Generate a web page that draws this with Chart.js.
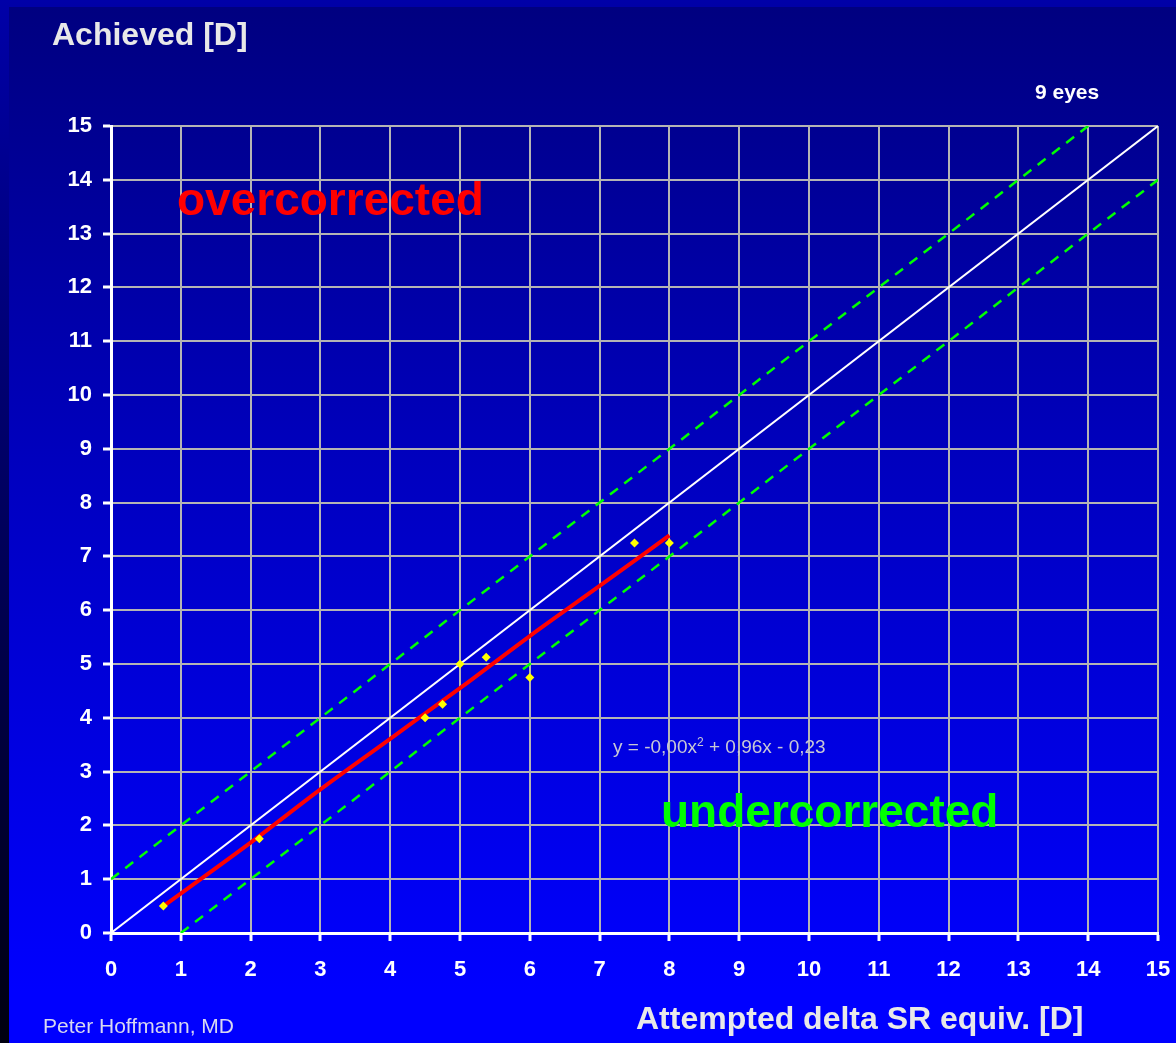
<!DOCTYPE html>
<html>
<head>
<meta charset="utf-8">
<script src="https://cdn.jsdelivr.net/npm/chart.js@4.4.1/dist/chart.umd.min.js"></script>
<style>
  html, body { margin: 0; padding: 0; }
  body {
    width: 1176px; height: 1043px; overflow: hidden; position: relative;
    background: linear-gradient(#0000a8, #000010);
    font-family: "Liberation Sans", Arial, sans-serif;
  }
  #panel {
    position: absolute; left: 9px; top: 7px; right: 0; bottom: 0;
    background: linear-gradient(#000080 0%, #0000c0 45%, #0000ff 95%);
  }
  #chart { position: absolute; left: 0; top: 0; }
  .lbl { position: absolute; white-space: nowrap; line-height: 1; }
</style>
</head>
<body>
<div id="panel"></div>
<canvas id="chart" width="1176" height="1043"></canvas>

<div class="lbl" style="left:52px;top:18px;font-size:32px;font-weight:bold;color:#e8e8e8;">Achieved [D]</div>
<div class="lbl" style="left:1035px;top:81px;font-size:21px;font-weight:bold;color:#ffffff;">9 eyes</div>
<div class="lbl" style="left:177px;top:176px;font-size:46px;font-weight:bold;color:#ff0000;">overcorrected</div>
<div class="lbl" style="left:661px;top:788px;font-size:46px;font-weight:bold;color:#00ff00;">undercorrected</div>
<div class="lbl" style="left:613px;top:737px;font-size:19px;color:#c8c8d4;">y = -0,00x<sup style="font-size:12px;vertical-align:7px;line-height:0;">2</sup> + 0,96x - 0,23</div>
<div class="lbl" style="left:636px;top:1002px;font-size:32px;font-weight:bold;color:#e8e8e8;">Attempted delta SR equiv. [D]</div>
<div class="lbl" style="left:43px;top:1015px;font-size:21px;color:#d8d8f0;">Peter Hoffmann, MD</div>

<script>
// measured eyes (attempted vs achieved, dioptres)
const attempted = [0.75, 2.125, 4.5, 4.75, 5.0, 5.375, 6.0, 7.5, 8.0];
const achieved  = [0.5, 1.75, 4.0, 4.25, 5.0, 5.125, 4.75, 7.25, 7.25];

// red trend line
const trendX = [0.75, 2, 3, 4, 5, 6, 7, 8];
const trendY = [0.5, 1.68, 2.67, 3.61, 4.55, 5.52, 6.45, 7.39];

// reference lines
const idealX = [0, 15];
const idealY = [0, 15];
const overX  = [0, 14];
const overY  = [1, 15];
const underX = [1, 15];
const underY = [0, 14];

const tickLabels = ['0','1','2','3','4','5','6','7','8','9','10','11','12','13','14','15'];

function pts(xs, ys) {
    return xs.map((x, i) => ({ x: x, y: ys[i] }));
}

const fontTicks = { family: '"Liberation Sans", Arial, sans-serif', size: 22, weight: 'bold' };

const ctx = document.getElementById('chart').getContext('2d');
const chart = new Chart(ctx, {
    type: 'scatter',
    data: {
        datasets: [
            {
                label: 'eyes',
                data: pts(attempted, achieved),
                pointStyle: 'rectRot',
                pointRadius: 4.5,
                backgroundColor: '#ffff00',
                borderColor: '#ffff00',
                borderWidth: 0,
                order: 0
            },
            {
                label: 'trend',
                data: pts(trendX, trendY),
                showLine: true,
                borderColor: '#ff0000',
                borderWidth: 4,
                pointRadius: 0,
                cubicInterpolationMode: 'monotone',
                order: 1
            },
            {
                label: 'ideal',
                data: pts(idealX, idealY),
                showLine: true,
                borderColor: '#ffffff',
                borderWidth: 2,
                pointRadius: 0,
                order: 2
            },
            {
                label: 'over',
                data: pts(overX, overY),
                showLine: true,
                borderColor: '#00ff00',
                borderWidth: 2.5,
                borderDash: [10, 8],
                pointRadius: 0,
                order: 3
            },
            {
                label: 'under',
                data: pts(underX, underY),
                showLine: true,
                borderColor: '#00ff00',
                borderWidth: 2.5,
                borderDash: [10, 8],
                pointRadius: 0,
                order: 3
            }
        ]
    },
    options: {
        responsive: false,
        animation: false,
        layout: { padding: { left: 0, top: 126, right: 18, bottom: 0 } },
        plugins: {
            legend: { display: false },
            tooltip: { enabled: false }
        },
        scales: {
            x: {
                type: 'linear',
                min: 0,
                max: 15,
                afterFit: function(scale) {
                    scale.height = 110;
                    scale.paddingLeft = 0;
                    scale.paddingRight = 0;
                },
                afterBuildTicks: function(scale) {
                    scale.ticks = tickLabels.map(t => ({ value: Number(t) }));
                },
                ticks: {
                    color: '#ffffff',
                    font: fontTicks,
                    padding: 16,
                    maxRotation: 0,
                    callback: function(v) { return tickLabels[v]; }
                },
                grid: {
                    color: '#b4b4b4',
                    lineWidth: 2,
                    tickColor: '#ffffff',
                    tickLength: 8,
                    tickWidth: 3
                },
                border: { color: '#ffffff', width: 3 }
            },
            y: {
                type: 'linear',
                min: 0,
                max: 15,
                afterFit: function(scale) {
                    scale.width = 111;
                    scale.paddingTop = 0;
                    scale.paddingBottom = 0;
                },
                afterBuildTicks: function(scale) {
                    scale.ticks = tickLabels.map(t => ({ value: Number(t) }));
                },
                ticks: {
                    color: '#ffffff',
                    font: fontTicks,
                    padding: 11,
                    callback: function(v) { return tickLabels[v]; }
                },
                grid: {
                    color: '#b4b4b4',
                    lineWidth: 2,
                    tickColor: '#ffffff',
                    tickLength: 8,
                    tickWidth: 3
                },
                border: { color: '#ffffff', width: 3 }
            }
        }
    }
});
</script>
</body>
</html>
